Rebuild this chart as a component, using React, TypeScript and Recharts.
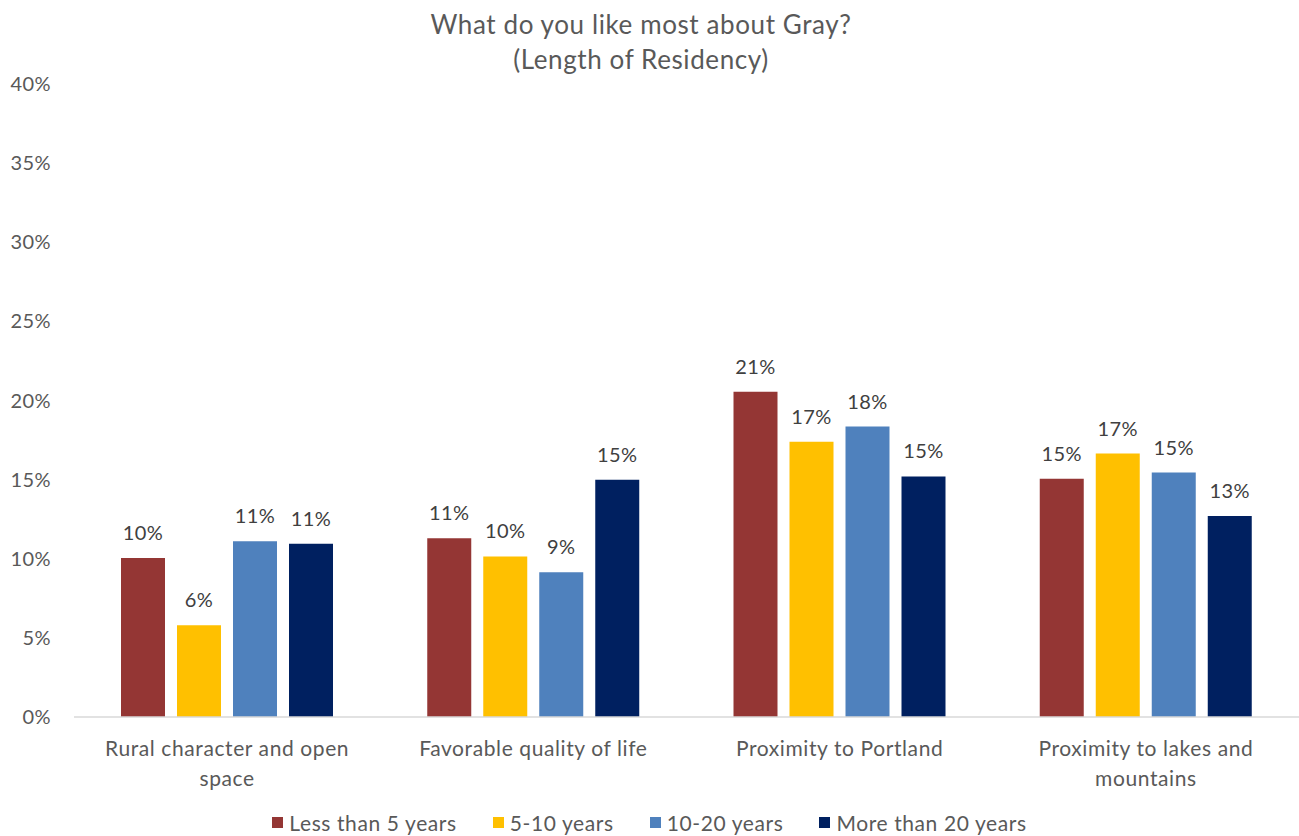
import React from 'react';
import { BarChart, Bar, XAxis, YAxis, Legend, LabelList, ReferenceLine } from 'recharts';

const CATEGORIES = [
  'Rural character and open space',
  'Favorable quality of life',
  'Proximity to Portland',
  'Proximity to lakes and mountains',
];

const SERIES_NAMES = ['Less than 5 years', '5-10 years', '10-20 years', 'More than 20 years'];
const SERIES_COLORS = ['#943634', '#FFC000', '#4F81BD', '#002060'];

// values in percent
const LESS_THAN_5 = [10.05, 11.3, 20.55, 15.05];
const FIVE_TO_10 = [5.8, 10.15, 17.4, 16.65];
const TEN_TO_20 = [11.1, 9.15, 18.35, 15.45];
const MORE_THAN_20 = [10.95, 15.0, 15.2, 12.7];

const Y_TICKS = [0, 5, 10, 15, 20, 25, 30, 35, 40];

const FONT = 'Lato, "Open Sans", sans-serif';
const AXIS_COLOR = '#595959';
const LABEL_COLOR = '#404040';

const SERIES_KEYS = ['s0', 's1', 's2', 's3'];
const SERIES_VALUES = [LESS_THAN_5, FIVE_TO_10, TEN_TO_20, MORE_THAN_20];

const data = CATEGORIES.map((name, i) => {
  const row: Record<string, string | number> = { name };
  SERIES_KEYS.forEach((k, s) => { row[k] = SERIES_VALUES[s][i]; });
  return row;
});

/* word wrap the category names into lines of max ~26 chars */
function wrapWords(text: string, maxChars = 26): string[] {
  const lines: string[] = [];
  let cur = '';
  for (const w of text.split(' ')) {
    const next = cur ? cur + ' ' + w : w;
    if (next.length > maxChars && cur) {
      lines.push(cur);
      cur = w;
    } else {
      cur = next;
    }
  }
  if (cur) lines.push(cur);
  return lines;
}

function CategoryTick(props: any) {
  const { x, y, payload } = props;
  const lines = wrapWords(String(payload.value));
  return (
    <text x={x} y={y + 37} textAnchor="middle" fill={AXIS_COLOR} fontSize={21}
      fontFamily={FONT} letterSpacing={0.6}>
      {lines.map((l, i) => (
        <tspan key={i} x={x} dy={i === 0 ? 0 : 30}>{l}</tspan>
      ))}
    </text>
  );
}

function LegendContent() {
  return (
    <div style={{
      display: 'flex', justifyContent: 'center', gap: 36, fontFamily: FONT, fontSize: 21,
      letterSpacing: 0.6, color: AXIS_COLOR, paddingTop: 10,
    }}>
      {SERIES_NAMES.map((n, i) => (
        <div key={n} style={{ display: 'flex', alignItems: 'center' }}>
          <span style={{ display: 'inline-block', width: 11, height: 11, background: SERIES_COLORS[i], marginRight: 6 }} />
          <span>{n}</span>
        </div>
      ))}
    </div>
  );
}

export default function App() {
  return (
    <div style={{ position: 'absolute', left: 0, top: 0, width: 1299, height: 836, background: '#fff' }}>
      <div style={{
        position: 'absolute', left: 0, top: 7, width: 1282, textAlign: 'center',
        fontFamily: FONT, fontSize: 26, letterSpacing: 0.6, lineHeight: '35px', color: AXIS_COLOR, zIndex: 2,
      }}>
        What do you like most about Gray?<br />(Length of Residency)
      </div>
      <BarChart
        width={1299}
        height={836}
        data={data}
        margin={{ top: 84, right: 0, bottom: 0, left: 0 }}
        barSize={44}
        barGap={12}
      >
        <XAxis
          dataKey="name"
          height={83}
          axisLine={false}
          tickLine={false}
          tickSize={0}
          tick={<CategoryTick />}
          interval={0}
        />
        <YAxis
          width={74}
          domain={[0, 40]}
          ticks={Y_TICKS}
          tickFormatter={(v: number) => `${v}%`}
          axisLine={false}
          tickLine={false}
          tickSize={0}
          tickMargin={23}
          tick={{ fill: AXIS_COLOR, fontSize: 20, fontFamily: FONT, letterSpacing: 0.4 }}
        />
        <ReferenceLine y={0} stroke="#d9d9d9" strokeWidth={1.5} />
        <Legend verticalAlign="bottom" content={<LegendContent />} wrapperStyle={{ height: 36 }} />
        {SERIES_KEYS.map((k, i) => (
          <Bar key={k} dataKey={k} name={SERIES_NAMES[i]} fill={SERIES_COLORS[i]} isAnimationActive={false}>
            <LabelList
              dataKey={k}
              position="top"
              offset={18}
              formatter={(v: any) => `${Math.round(Number(v))}%`}
              style={{ fill: LABEL_COLOR, fontSize: 20, fontFamily: FONT, letterSpacing: 0.4 }}
            />
          </Bar>
        ))}
      </BarChart>
    </div>
  );
}
